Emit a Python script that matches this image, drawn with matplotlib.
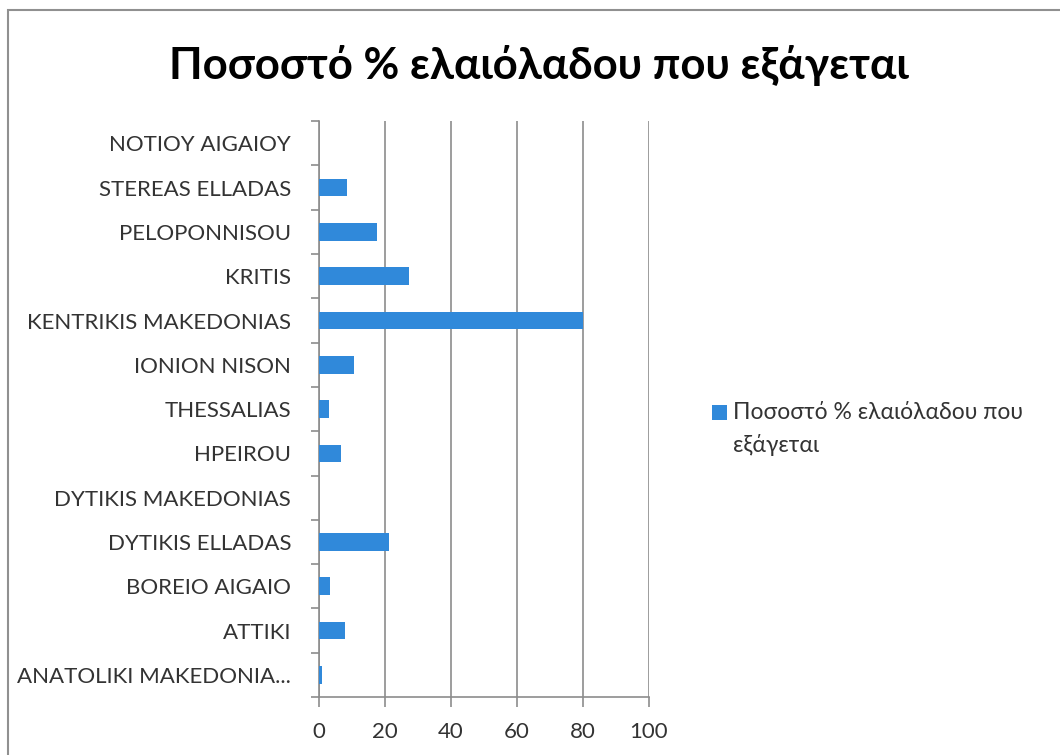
import matplotlib.pyplot as plt
from matplotlib.patches import Rectangle

# regions, bottom to top as they stack on the axis
regions = [
    "ANATOLIKI MAKEDONIA...",
    "ATTIKI",
    "BOREIO AIGAIO",
    "DYTIKIS ELLADAS",
    "DYTIKIS MAKEDONIAS",
    "HPEIROU",
    "THESSALIAS",
    "IONION NISON",
    "KENTRIKIS MAKEDONIAS",
    "KRITIS",
    "PELOPONNISOU",
    "STEREAS ELLADAS",
    "NOTIOY AIGAIOY",
]
export_pct = [0.9, 7.9, 3.3, 21.1, 0, 6.8, 2.9, 10.6, 80, 27.4, 17.7, 8.4, 0]
xticks = [0, 20, 40, 60, 80, 100]

title = "Ποσοστό % ελαιόλαδου που εξάγεται"
series_lines = ["Ποσοστό % ελαιόλαδου που", "εξάγεται"]

plt.rcParams["font.family"] = ["Lato", "Noto Sans", "DejaVu Sans"]

bar_color = "#3089da"
axis_color = "#8c8c8c"
text_color = "#333333"

fig = plt.figure(figsize=(10.6, 7.55), dpi=100)
ax = fig.add_axes([0.3009, 0.0768, 0.3113, 0.7627])

pos = list(range(len(regions)))
ax.barh(pos, export_pct, height=0.4, color=bar_color, zorder=3)

ax.set_xlim(0, 100)
ax.set_ylim(-0.5, len(regions) - 0.5)
ax.set_xticks(xticks)
ax.set_xticklabels([str(t) for t in xticks])
ax.set_yticks(pos)
ax.set_yticklabels(regions)
ax.set_yticks([p + 0.5 for p in pos] + [-0.5], minor=True)

ax.grid(axis="x", color=axis_color, linewidth=1.2, zorder=0)
for side in ("top", "right"):
    ax.spines[side].set_visible(False)
for side in ("left", "bottom"):
    ax.spines[side].set_color(axis_color)
    ax.spines[side].set_linewidth(1.2)

ax.tick_params(axis="y", which="major", length=0, pad=20, labelsize=16, labelcolor=text_color)
ax.tick_params(axis="y", which="minor", length=6, width=1.2, color=axis_color)
ax.tick_params(axis="x", length=7, width=1.2, color=axis_color, pad=11,
               labelsize=16, labelcolor=text_color)

fig.text(0.508, 0.913, title, ha="center", va="center", fontsize=31.5,
         fontweight="bold", color="black")

# legend: swatch sits beside the first line of the wrapped series name
fig.patches.append(Rectangle((0.6717, 0.4437), 0.01415, 0.0199, transform=fig.transFigure,
                             facecolor=bar_color, edgecolor="none"))
fig.text(0.6915, 0.4543, series_lines[0], ha="left", va="center", fontsize=16.5,
         color=text_color)
fig.text(0.6915, 0.4100, series_lines[1], ha="left", va="center", fontsize=16.5,
         color=text_color)

# outer chart frame
fig.patches.append(Rectangle((0.0075, -0.01), 1.1, 0.997, transform=fig.transFigure,
                             fill=False, edgecolor="#909090", linewidth=1.5))

fig.savefig("out.png", dpi=100, facecolor="white")
